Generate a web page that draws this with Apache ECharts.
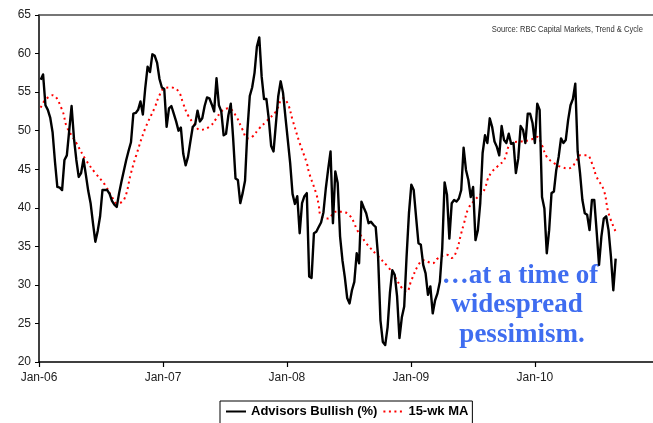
<!DOCTYPE html>
<html>
<head>
<meta charset="utf-8">
<script src="https://cdn.jsdelivr.net/npm/echarts@6/dist/echarts.min.js"></script>
<style>
  html, body { margin: 0; padding: 0; background: #ffffff; }
  #chart { width: 653px; height: 423px; }
</style>
</head>
<body>
<div id="chart"></div>
<script>
// Weekly survey readings, first reading dated 6 Jan 2006
const firstWeek = '2006-01-06';
const axisOrigin = '2006-01-01';

const bullish = [
  56.6, 57.3, 53.3, 52.7, 51.7, 49.8, 46.0, 42.7, 42.6, 42.3,
  46.2, 46.8, 50.0, 53.2, 49.0, 46.2, 44.0, 44.5, 46.3, 44.3,
  42.2, 40.6, 38.0, 35.6, 37.0, 38.9, 42.3, 42.3, 42.3, 41.8,
  40.9, 40.4, 40.1, 41.9, 43.4, 44.8, 46.2, 47.4, 48.5, 52.2,
  52.3, 52.7, 53.8, 52.1, 55.5, 58.3, 57.6, 59.9, 59.7, 58.8,
  56.7, 55.6, 55.4, 50.5, 52.9, 53.2, 52.2, 51.2, 50.0, 50.4,
  47.0, 45.5, 46.6, 48.6, 50.5, 50.8, 52.6, 51.2, 51.6, 53.2,
  54.3, 54.2, 53.4, 52.5, 56.8, 53.3, 52.5, 49.4, 49.6, 52.0,
  53.5, 49.0, 43.8, 43.6, 40.6, 41.9, 43.5, 50.0, 54.5, 55.6,
  57.5, 60.9, 62.1, 57.0, 54.1, 54.1, 51.5, 48.0, 47.3, 50.9,
  54.5, 56.4, 54.9, 51.8, 48.8, 45.8, 41.8, 40.5, 41.5, 36.7,
  40.6, 41.5, 41.9, 31.1, 30.9, 36.7, 36.9, 37.5, 38.1, 39.4,
  42.5, 45.0, 47.3, 38.0, 44.7, 43.2, 36.3, 33.2, 31.0, 28.3,
  27.6, 29.3, 30.4, 34.1, 32.8, 40.8, 40.0, 39.3, 38.0, 38.2,
  37.8, 37.5, 33.7, 25.4, 22.6, 22.2, 24.5, 29.0, 31.9, 31.3,
  28.5, 23.1, 25.8, 27.2, 33.7, 39.3, 43.0, 42.3, 38.8, 35.4,
  35.2, 32.6, 31.5, 28.7, 29.8, 26.3, 28.0, 28.9, 30.4, 34.7,
  43.3, 41.7, 36.0, 40.6, 41.0, 40.8, 41.2, 42.3, 47.8, 44.9,
  43.6, 41.4, 42.7, 35.8, 37.1, 40.6, 47.1, 49.4, 48.4, 51.6,
  50.5, 48.6, 47.9, 46.8, 50.6, 48.8, 48.4, 49.6, 48.3, 48.4,
  44.5, 46.4, 50.6, 50.1, 48.4, 52.2, 52.2, 51.0, 48.4, 53.5,
  52.7, 41.4, 39.9, 34.1, 37.1, 41.9, 42.1, 44.9, 46.6, 49.0,
  48.4, 48.8, 51.4, 53.3, 54.1, 56.1, 47.3, 44.5, 41.0, 39.3,
  39.1, 37.1, 41.0, 41.0, 36.9, 32.6, 36.3, 38.6, 38.9, 37.1,
  33.7, 29.3, 33.4
];

// 15-week moving average, read at these week numbers
const maWeeks = [
  0, 2, 5, 9, 11, 15, 19, 23, 27, 30,
  32, 35, 38, 40, 44, 48, 50, 52, 55, 58,
  60, 62, 65, 67, 71, 74, 76, 79, 82, 85,
  87, 89, 92, 95, 99, 102, 104, 106, 109, 112,
  113, 116, 117, 118, 121, 124, 127, 130, 132, 133,
  135, 137, 142, 146, 149, 152, 154, 156, 159, 161,
  165, 167, 171, 173, 175, 177, 178, 180, 183, 185,
  187, 188, 190, 192, 195, 198, 202, 206, 209, 211,
  213, 216, 219, 222, 225, 227, 230, 232, 234, 237,
  239, 242
];
const maValues = [
  53.0, 54.0, 54.6, 52.7, 50.5, 48.4, 46.2, 44.5, 43.0, 41.4,
  40.6, 41.0, 44.5, 46.6, 50.3, 53.0, 54.6, 55.5, 55.6, 55.1,
  53.5, 52.0, 50.7, 50.1, 50.5, 51.6, 52.5, 52.9, 52.0, 50.1,
  49.0, 49.2, 50.3, 51.2, 52.5, 54.2, 53.5, 51.4, 48.4, 45.8,
  44.5, 41.8, 40.4, 38.9, 38.6, 39.5, 39.5, 39.0, 38.0, 37.2,
  36.3, 35.4, 33.7, 32.4, 31.1, 29.6, 29.1, 30.6, 32.6, 33.2,
  32.8, 33.4, 33.9, 33.5, 34.4, 36.7, 37.8, 39.9, 41.1, 41.7,
  42.5, 43.6, 44.7, 45.3, 46.2, 48.4, 48.6, 48.8, 49.2, 48.1,
  46.6, 45.8, 45.3, 45.1, 45.8, 46.8, 46.8, 45.8, 44.0, 42.3,
  39.3, 36.9
];

const yearLabels = ['Jan-06', 'Jan-07', 'Jan-08', 'Jan-09', 'Jan-10'];
const seriesNames = ['Advisors Bullish (%)', '15-wk MA'];
const sourceNote = 'Source: RBC Capital Markets, Trend & Cycle';
const noteLines = ['\u2026at a time of', 'widespread', 'pessimism.'];

const DAY = 86400000;
const YEAR_DAYS = 365.25;
const startOffset = (Date.parse(firstWeek) - Date.parse(axisOrigin)) / DAY;
const weekDay = (w) => startOffset + 7 * w;

const bullishData = bullish.map((v, i) => [weekDay(i), v]);
const maData = maWeeks.map((w, i) => [weekDay(w), maValues[i]]);

const axisFont = 'Liberation Sans, Arial, sans-serif';
const noteColor = '#3f6df0';
const noteFont = 'bold 27px "Liberation Serif", "Times New Roman", serif';

const chart = echarts.init(document.getElementById('chart'), null, { renderer: 'canvas' });

chart.setOption({
  animation: false,
  backgroundColor: '#ffffff',
  grid: { left: 39, right: 0, top: 15, bottom: 61, containLabel: false },
  xAxis: [
    {
      type: 'value',
      min: 0,
      max: 1809,
      interval: YEAR_DAYS,
      axisLine: { show: true, onZero: false, lineStyle: { color: '#000', width: 1.5 } },
      axisTick: { show: true, length: 5, lineStyle: { color: '#000', width: 1.2 } },
      axisLabel: {
        showMaxLabel: false,
        margin: 10,
        fontFamily: axisFont,
        fontSize: 12,
        color: '#222',
        formatter: (v) => yearLabels[Math.round(v / YEAR_DAYS)] || ''
      },
      splitLine: { show: false }
    },
    {
      type: 'value',
      position: 'top',
      min: 0,
      max: 1809,
      axisLine: { show: true, onZero: false, lineStyle: { color: '#4a4a4a', width: 1.5 } },
      axisTick: { show: false },
      axisLabel: { show: false },
      splitLine: { show: false }
    }
  ],
  yAxis: {
    type: 'value',
    min: 20,
    max: 65,
    interval: 5,
    axisLine: { show: true, lineStyle: { color: '#000', width: 1.5 } },
    axisTick: { show: true, length: 4, lineStyle: { color: '#000', width: 1 } },
    axisLabel: { margin: 8, fontFamily: axisFont, fontSize: 12, color: '#222' },
    splitLine: { show: false }
  },
  legend: {
    left: 220,
    top: 401,
    itemWidth: 20,
    itemHeight: 12,
    itemGap: 5,
    padding: [4, 4, 10, 5],
    borderColor: '#000',
    borderWidth: 1,
    itemStyle: { opacity: 0 },
    textStyle: { fontFamily: axisFont, fontSize: 13, fontWeight: 'bold', color: '#000' },
    data: seriesNames
  },
  graphic: [
    {
      type: 'text',
      x: 643,
      y: 29,
      scaleX: 0.8,
      style: {
        text: sourceNote,
        fill: '#333',
        font: '9.5px "Liberation Sans", Arial, sans-serif',
        textAlign: 'right',
        textVerticalAlign: 'middle'
      }
    },
    { type: 'text', x: 520, y: 276, style: { text: noteLines[0], fill: noteColor, font: noteFont, textAlign: 'center', textVerticalAlign: 'middle' } },
    { type: 'text', x: 517, y: 305, style: { text: noteLines[1], fill: noteColor, font: noteFont, textAlign: 'center', textVerticalAlign: 'middle' } },
    { type: 'text', x: 522, y: 335, style: { text: noteLines[2], fill: noteColor, font: noteFont, textAlign: 'center', textVerticalAlign: 'middle' } }
  ],
  series: [
    {
      name: seriesNames[0],
      type: 'line',
      xAxisIndex: 0,
      data: bullishData,
      symbol: 'none',
      lineStyle: { color: '#000', width: 2.4, join: 'round' },
      itemStyle: { color: '#000' },
      z: 3
    },
    {
      name: seriesNames[1],
      type: 'line',
      xAxisIndex: 0,
      data: maData,
      symbol: 'none',
      smooth: 0.4,
      lineStyle: { color: '#ff0000', width: 2, type: [2, 3.5] },
      itemStyle: { color: '#ff0000' },
      z: 2
    }
  ]
});
</script>
</body>
</html>
